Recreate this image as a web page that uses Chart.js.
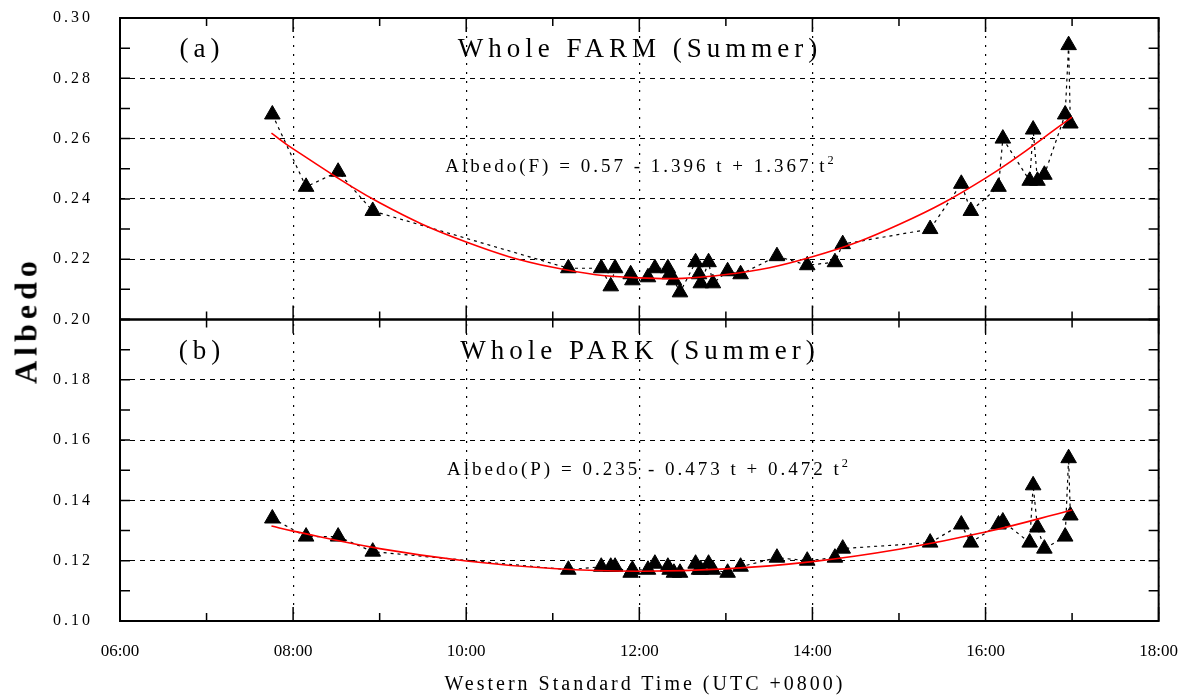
<!DOCTYPE html>
<html>
<head>
<meta charset="utf-8">
<title>Albedo FARM / PARK</title>
<script src="https://cdn.jsdelivr.net/npm/chart.js"></script>
<style>
body { margin: 0; background: #fff; }
#wrap { position: relative; width: 1198px; height: 697px; font-family: "Liberation Serif", "Times New Roman", serif; color: #000; }
.lbl { position: absolute; white-space: nowrap; transform: translate(-50%, -50%); }
.lbl sup { font-size: 65%; }
</style>
</head>
<body>
<div id="wrap">
  <canvas id="chart"></canvas>
  <div class="lbl" style="left:202px;top:48px;font-size:27px;letter-spacing:5px">(a)</div>
  <div class="lbl" style="left:640px;top:48px;font-size:27px;letter-spacing:5px">Whole FARM (Summer)</div>
  <div class="lbl" style="left:641px;top:165px;font-size:19px;letter-spacing:3px">Albedo(F) = 0.57 - 1.396 t + 1.367 t<sup>2</sup></div>
  <div class="lbl" style="left:202px;top:350px;font-size:27px;letter-spacing:5px">(b)</div>
  <div class="lbl" style="left:640px;top:350px;font-size:27px;letter-spacing:5px">Whole PARK (Summer)</div>
  <div class="lbl" style="left:649px;top:468px;font-size:19px;letter-spacing:3px">Albedo(P) = 0.235 - 0.473 t + 0.472 t<sup>2</sup></div>
  <div class="lbl" style="left:26px;top:320px;font-size:32px;font-weight:bold;letter-spacing:5px;transform:translate(-50%,-50%) rotate(-90deg)">Albedo</div>
  <div class="lbl" style="left:645px;top:683px;font-size:20px;letter-spacing:3px">Western Standard Time (UTC +0800)</div>
</div>
<script>
// observation times (decimal hours, WST)
const times = [7.76, 8.15, 8.52, 8.92, 11.18, 11.56, 11.67, 11.72, 11.90, 11.92, 12.10, 12.18, 12.33,
  12.35, 12.40, 12.47, 12.65, 12.69, 12.71, 12.80, 12.85, 13.02, 13.17, 13.59, 13.94, 14.26, 14.35,
  15.36, 15.72, 15.83, 16.15, 16.20, 16.51, 16.55, 16.60, 16.68, 16.92, 16.96, 16.98];

// (a) whole farm
const farmAlbedo = [0.268, 0.244, 0.249, 0.236, 0.217, 0.217, 0.211, 0.217, 0.215, 0.213, 0.214, 0.217, 0.217,
  0.215, 0.213, 0.209, 0.219, 0.215, 0.212, 0.219, 0.212, 0.216, 0.215, 0.221, 0.218, 0.219, 0.225,
  0.230, 0.245, 0.236, 0.244, 0.260, 0.246, 0.263, 0.246, 0.248, 0.268, 0.291, 0.265];

// (b) whole park
const parkAlbedo = [0.134, 0.128, 0.128, 0.123, 0.117, 0.118, 0.118, 0.118, 0.116, 0.117, 0.117, 0.119, 0.118,
  0.117, 0.116, 0.116, 0.119, 0.117, 0.117, 0.119, 0.117, 0.116, 0.118, 0.121, 0.120, 0.121, 0.124,
  0.126, 0.132, 0.126, 0.132, 0.133, 0.126, 0.145, 0.131, 0.124, 0.128, 0.154, 0.135];

// red fitted curves
const fitTimes = [7.75, 8, 9, 10, 11, 12, 13, 14, 15, 16, 17];
const farmFit = [0.2618, 0.2566, 0.2387, 0.2257, 0.2173, 0.2138, 0.2149, 0.2208, 0.2315, 0.2469, 0.2671];
const parkFit = [0.1315, 0.1298, 0.1240, 0.1199, 0.1174, 0.1165, 0.1173, 0.1197, 0.1238, 0.1295, 0.1368];

const hourTicks = [6, 8, 10, 12, 14, 16, 18];
const hourLabels = ['06:00', '08:00', '10:00', '12:00', '14:00', '16:00', '18:00'];

function pts(xs, ys) {
  return xs.map((x, i) => ({x: x, y: ys[i]}));
}

// frame, inward ticks and spaced y labels
const framePlugin = {
  id: 'frame',
  afterDraw(chart) {
    const ctx = chart.ctx;
    const x = chart.scales.x;
    ctx.save();
    ctx.strokeStyle = '#000';
    ['yTop', 'yBot'].forEach(id => {
      const y = chart.scales[id];
      ctx.lineWidth = 2;
      ctx.strokeRect(x.left, y.top, x.right - x.left, y.bottom - y.top);
      ctx.lineWidth = 1.5;
      ctx.beginPath();
      for (let h = x.min; h <= x.max; h++) {
        const px = x.getPixelForValue(h);
        const len = h % 2 === 0 ? 14 : 8;
        ctx.moveTo(px, y.top); ctx.lineTo(px, y.top + len);
        ctx.moveTo(px, y.bottom); ctx.lineTo(px, y.bottom - len);
      }
      for (let i = 0; i <= 10; i++) {
        const py = y.getPixelForValue(y.min + i * 0.01);
        ctx.moveTo(x.left, py); ctx.lineTo(x.left + 10, py);
        ctx.moveTo(x.right, py); ctx.lineTo(x.right - 10, py);
      }
      ctx.stroke();
    });
    ctx.fillStyle = '#000';
    ctx.font = '16px "Liberation Serif"';
    ctx.letterSpacing = '3px';
    ctx.textAlign = 'right';
    ctx.textBaseline = 'middle';
    const yt = chart.scales.yTop, yb = chart.scales.yBot;
    yt.ticks.forEach(t => ctx.fillText(t.value.toFixed(2), 93, yt.getPixelForValue(t.value)));
    yb.ticks.forEach(t => {
      if (t.value < 0.199) ctx.fillText(t.value.toFixed(2), 93, yb.getPixelForValue(t.value));
    });
    ctx.restore();
  }
};

const yGrid = {color: '#000', lineWidth: 1, drawTicks: false};

const ctx = document.getElementById('chart').getContext('2d');
const myChart = new Chart(ctx, {
  type: 'scatter',
  data: {
    datasets: [{
      data: pts(fitTimes, farmFit),
      yAxisID: 'yTop',
      showLine: true,
      borderColor: '#ff0000',
      borderWidth: 1.6,
      pointRadius: 0,
      tension: 0.4,
      order: 0
    }, {
      data: pts(fitTimes, parkFit),
      yAxisID: 'yBot',
      showLine: true,
      borderColor: '#ff0000',
      borderWidth: 1.6,
      pointRadius: 0,
      tension: 0.4,
      order: 0
    }, {
      data: pts(times, farmAlbedo),
      yAxisID: 'yTop',
      showLine: true,
      borderColor: '#000',
      borderWidth: 1.2,
      borderDash: [3, 4],
      pointStyle: 'triangle',
      pointRadius: 9,
      pointBackgroundColor: '#000',
      pointBorderColor: '#000',
      pointBorderWidth: 1,
      order: 1
    }, {
      data: pts(times, parkAlbedo),
      yAxisID: 'yBot',
      showLine: true,
      borderColor: '#000',
      borderWidth: 1.2,
      borderDash: [3, 4],
      pointStyle: 'triangle',
      pointRadius: 9,
      pointBackgroundColor: '#000',
      pointBorderColor: '#000',
      pointBorderWidth: 1,
      order: 1
    }]
  },
  options: {
    responsive: true,
    maintainAspectRatio: false,
    animation: false,
    events: [],
    layout: {padding: {left: 120, right: 35, top: 18, bottom: 0}},
    plugins: {legend: {display: false}, tooltip: {enabled: false}},
    scales: {
      x: {
        type: 'linear',
        min: 6,
        max: 18,
        afterFit: s => { s.height = 76; },
        ticks: {
          stepSize: 2,
          padding: 20,
          color: '#000',
          font: {family: 'Liberation Serif', size: 17},
          callback: v => hourLabels[hourTicks.indexOf(v)]
        },
        grid: {color: '#000', lineWidth: 1.2, drawTicks: false},
        border: {display: false, dash: [2, 7]}
      },
      yBot: {
        type: 'linear',
        position: 'left',
        stack: 'panels',
        min: 0.10,
        max: 0.20,
        afterFit: s => { s.width = 0; },
        ticks: {stepSize: 0.02, display: false},
        grid: yGrid,
        border: {display: false, dash: [5, 5]}
      },
      yTop: {
        type: 'linear',
        position: 'left',
        stack: 'panels',
        min: 0.20,
        max: 0.30,
        afterFit: s => { s.width = 0; },
        ticks: {stepSize: 0.02, display: false},
        grid: yGrid,
        border: {display: false, dash: [5, 5]}
      }
    }
  },
  plugins: [framePlugin]
});
</script>
</body>
</html>
